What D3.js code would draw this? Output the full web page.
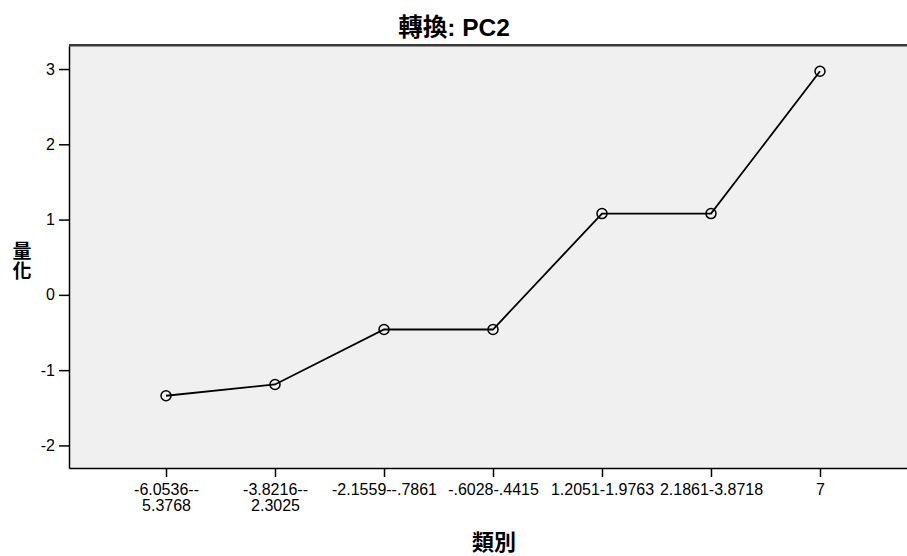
<!DOCTYPE html>
<html>
<head>
<meta charset="utf-8">
<script src="https://cdn.jsdelivr.net/npm/d3@7"></script>
<style>
  html, body { margin: 0; padding: 0; background: #ffffff; }
  svg { display: block; }
  text { font-family: "Liberation Sans", Arial, "Noto Sans CJK TC", sans-serif; }
  .cjk { font-family: "Liberation Sans", Arial, "Noto Sans CJK TC", sans-serif; font-weight: bold; }
</style>
</head>
<body>
<svg id="chart" width="907" height="556"></svg>
<script>
// Category bins of the transformed variable PC2
const categories = [
  "-6.0536--5.3768",
  "-3.8216--2.3025",
  "-2.1559--.7861",
  "-.6028-.4415",
  "1.2051-1.9763",
  "2.1861-3.8718",
  "7"
];
// Quantification assigned to each category
const quantifications = [-1.34, -1.19, -0.46, -0.46, 1.08, 1.08, 2.97];
const yTicks = [-2, -1, 0, 1, 2, 3];
const titleText = "轉換: PC2";
const xTitle = "類別";
const yTitle = ["量", "化"];

const plot = { left: 69, top: 45.7, right: 917, bottom: 468 };

const svg = d3.select("#chart");

const x = d3.scalePoint()
  .domain(categories)
  .range([plot.left, plot.right])
  .padding(0.89);

const y = d3.scaleLinear()
  .domain([-2.3, 3.31])
  .range([plot.bottom, plot.top]);

// plot background
svg.append("rect")
  .attr("x", plot.left).attr("y", plot.top)
  .attr("width", plot.right - plot.left)
  .attr("height", plot.bottom - plot.top)
  .attr("fill", "#f0f0f0");

// top frame edge
svg.append("line")
  .attr("x1", plot.left).attr("x2", plot.right)
  .attr("y1", plot.top - 0.5).attr("y2", plot.top - 0.5)
  .attr("stroke", "#3a3a3a").attr("stroke-width", 2.5);

// y axis
const yAxis = svg.append("g")
  .attr("transform", `translate(${plot.left},0)`)
  .call(d3.axisLeft(y).tickValues(yTicks).tickFormat(d => String(d))
    .tickSize(10).tickSizeOuter(0).tickPadding(4));
yAxis.select(".domain").attr("stroke", "#000").attr("stroke-width", 1.5);
yAxis.selectAll(".tick line").attr("stroke", "#000").attr("stroke-width", 1.5);
yAxis.selectAll(".tick text")
  .attr("font-size", 16)
  .attr("fill", "#000")
  .style("font-family", "'Liberation Sans', Arial, sans-serif");

// x axis
const xAxis = svg.append("g")
  .attr("transform", `translate(0,${plot.bottom})`)
  .call(d3.axisBottom(x).tickSize(9).tickSizeOuter(0).tickPadding(7));
xAxis.select(".domain").attr("stroke", "#000").attr("stroke-width", 1.5);
xAxis.selectAll(".tick line").attr("stroke", "#000").attr("stroke-width", 1.5);
xAxis.selectAll(".tick text")
  .attr("font-size", 16)
  .attr("fill", "#000")
  .style("font-family", "'Liberation Sans', Arial, sans-serif")
  .each(function(d) {
    const t = d3.select(this);
    const step = x.step();
    if (this.getComputedTextLength() > step) {
      // wrap long range labels after the joining hyphen
      const m = d.match(/^(.+--)(.+)$/) || d.match(/^(.+-)(.+)$/);
      if (m) {
        const dy = t.attr("dy");
        t.text(null);
        t.append("tspan").attr("x", 0).attr("dy", dy).text(m[1]);
        t.append("tspan").attr("x", 0).attr("dy", "1em").text(m[2]);
      }
    }
  });

// quantification line
const line = d3.line()
  .x((d, i) => x(categories[i]))
  .y(d => y(d));

svg.append("path")
  .datum(quantifications)
  .attr("d", line)
  .attr("fill", "none")
  .attr("stroke", "#000")
  .attr("stroke-width", 1.8);

svg.append("g")
  .selectAll("circle")
  .data(quantifications)
  .join("circle")
  .attr("cx", (d, i) => x(categories[i]))
  .attr("cy", d => y(d))
  .attr("r", 5)
  .attr("fill", "none")
  .attr("stroke", "#000")
  .attr("stroke-width", 1.5);

// titles
svg.append("text")
  .attr("class", "cjk")
  .attr("x", 454).attr("y", 36)
  .attr("text-anchor", "middle")
  .attr("font-size", 24.5)
  .text(titleText);

svg.append("text")
  .attr("class", "cjk")
  .attr("x", 494).attr("y", 550)
  .attr("text-anchor", "middle")
  .attr("font-size", 22)
  .text(xTitle);

const yt = svg.append("text")
  .attr("class", "cjk")
  .attr("x", 22).attr("y", 258)
  .attr("text-anchor", "middle")
  .attr("font-size", 19);
yTitle.forEach((c, i) => {
  yt.append("tspan").attr("x", 22).attr("dy", i === 0 ? 0 : 20).text(c);
});
</script>
</body>
</html>
